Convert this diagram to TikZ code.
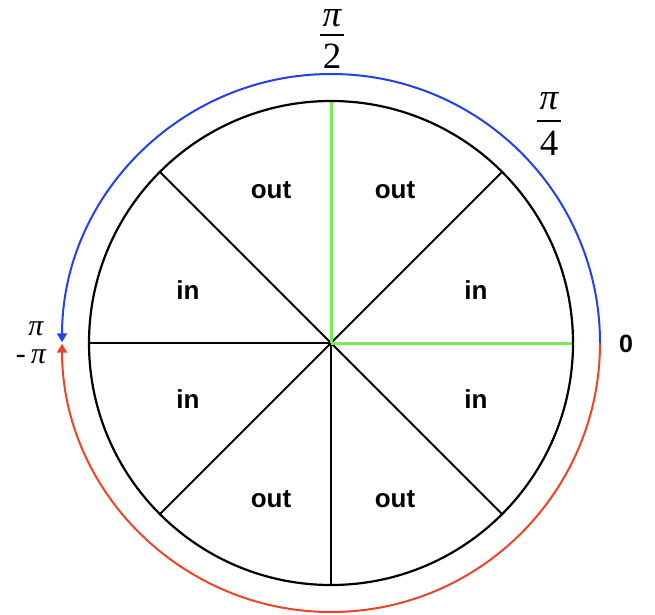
\documentclass[tikz,border=0pt]{standalone}
\usepackage{fontspec}
\setsansfont{Liberation Sans}
\newfontfamily\timesfont{Liberation Serif}
\usetikzlibrary{arrows.meta,calc}
\definecolor{spokegreen}{HTML}{77EE55}
\definecolor{arcblue}{HTML}{2240F0}
\definecolor{arcred}{HTML}{EE4425}
\begin{document}
\begin{tikzpicture}[x=1pt,y=1pt,
  spoke/.style={line width=1.8pt,black},
  greenspoke/.style={line width=3pt,spokegreen},
  rim/.style={line width=2.2pt,black},
  turn/.style={line width=2pt,-{Triangle[length=9pt,width=10pt]}},
  lbl/.style={font=\sffamily\bfseries\fontsize{26}{30}\selectfont},
  zerolbl/.style={font=\sffamily\bfseries\fontsize{25}{30}\selectfont},
  fracpart/.style={font=\timesfont\fontsize{37}{40}\selectfont,inner sep=0pt},
  fracbar/.style={line width=2pt,black},
  sidelbl/.style={font=\timesfont\fontsize{30}{32}\selectfont,inner sep=0pt}]
\useasboundingbox (0,0) rectangle (655,614);
\coordinate (c) at (331,271);
\foreach \a in {0,45,90,135,180,225,270,315}
  \coordinate (r\a) at ($(c)+(\a:242)$);
\coordinate (east) at ($(c)+(0:269)$);
\draw[spoke] (c) -- (r45);
\draw[spoke] (c) -- (r135);
\draw[spoke] (c) -- (r180);
\draw[spoke] (c) -- (r225);
\draw[spoke] (c) -- (r270);
\draw[spoke] (c) -- (r315);
\draw[greenspoke] (c) -- (r0);
\draw[greenspoke] (c) -- (r90);
\draw[rim] (c) circle (242);
\draw[turn,arcblue] (east) arc (0:179.85:269);
\draw[turn,arcred] (east) arc (0:-179.85:269);
\node[lbl] (o1) at (271,424) {out};
\node[lbl] (o2) at (395,424) {out};
\node[lbl] (i1) at (188,324) {in};
\node[lbl] (i2) at (476,324) {in};
\node[lbl] (i3) at (188,215) {in};
\node[lbl] (i4) at (476,215) {in};
\node[lbl] (o3) at (271,115) {out};
\node[lbl] (o4) at (395,115) {out};
\node[zerolbl] (zero) at (626,270) {0};
% pi / 2
\node[fracpart] (halfnum) at (332,596) {\itshape π};
\coordinate (halfbarl) at (320,579);
\coordinate (halfbarr) at (344,579);
\draw[fracbar] (halfbarl) -- (halfbarr);
\node[fracpart] (halfden) at (332,557.5) {2};
% pi / 4
\node[fracpart] (quarnum) at (549,513) {\itshape π};
\coordinate (quarbarl) at (537,493);
\coordinate (quarbarr) at (561,493);
\draw[fracbar] (quarbarl) -- (quarbarr);
\node[fracpart] (quarden) at (549,470.5) {4};
% pi and -pi
\node[sidelbl] (pi) at (36,285) {\itshape π};
\node[sidelbl] (mpi) at (31,257) {-\,\itshape π};
\end{tikzpicture}
\end{document}
